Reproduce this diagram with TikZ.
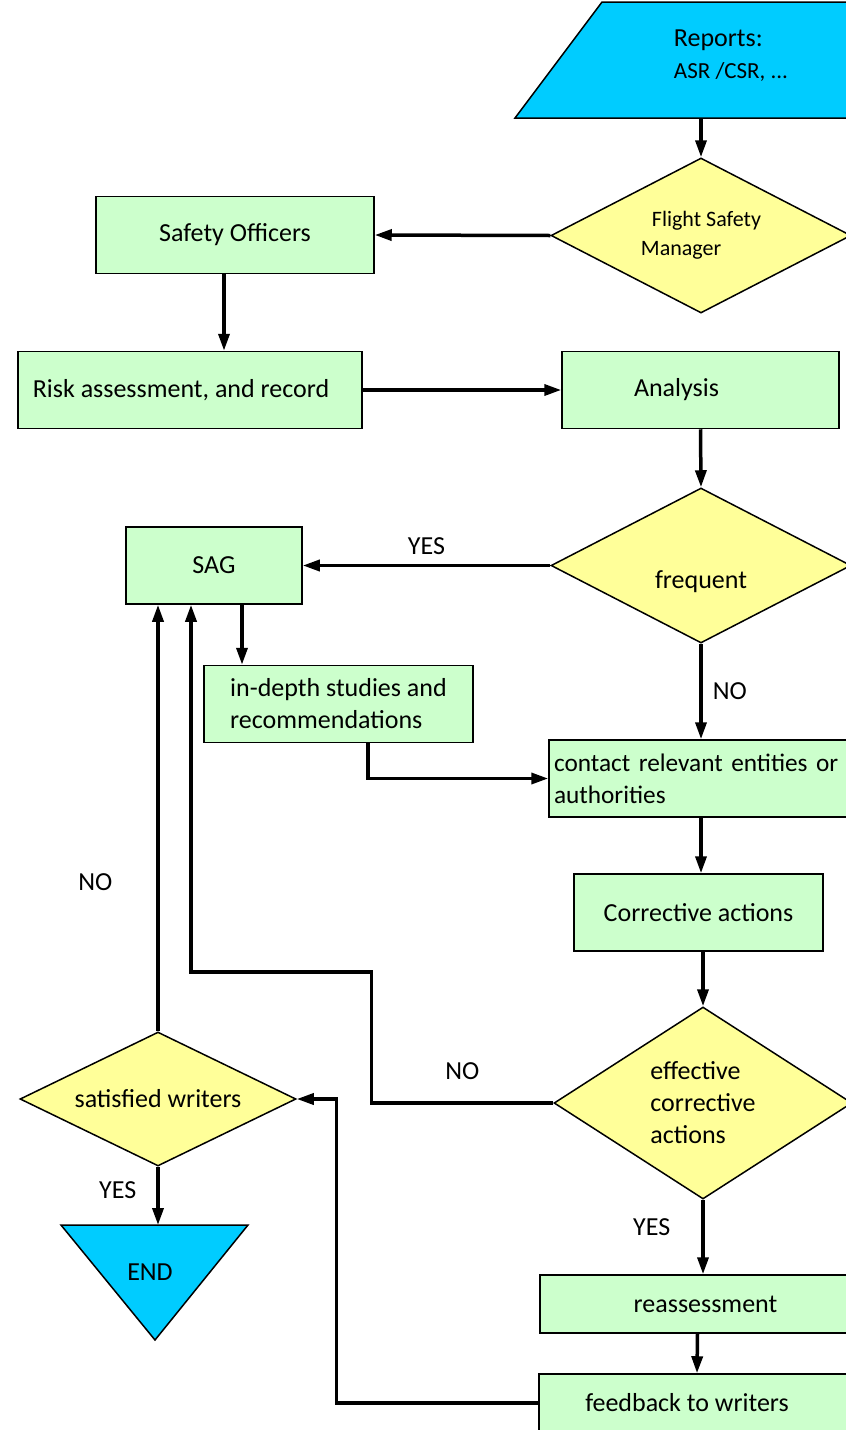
\documentclass[tikz,border=0pt]{standalone}
\usepackage{fontspec}
\setmainfont{Carlito}
\usetikzlibrary{shapes.geometric,arrows.meta,positioning}

\definecolor{repcyan}{RGB}{0,204,255}
\definecolor{boxgreen}{RGB}{204,255,204}
\definecolor{decyellow}{RGB}{255,255,153}

\newcommand\txtsz{\fontsize{26pt}{32pt}\selectfont}
\newcommand\fsmsz{\fontsize{22pt}{29pt}\selectfont}
\newcommand\lblsz{\fontsize{26pt}{30pt}\selectfont}

\tikzset{
  procbox/.style={draw, fill=boxgreen, line width=1.5pt, minimum height=77pt, inner sep=0pt, font=\txtsz},
  decision/.style={diamond, draw, fill=decyellow, line width=1.5pt, inner sep=0pt, aspect=2, font=\txtsz},
  flow/.style={line width=3.5pt, -{Triangle[length=17pt,width=11pt]}},
  lbl/.style={font=\lblsz, inner sep=0pt}
}

\begin{document}
\begin{tikzpicture}[x=1pt,y=-1pt]
    \useasboundingbox (0,0) rectangle (846,1430);
    \clip (0,0) rectangle (846,1430);

    % reports (cut by the right border)
    \filldraw[fill=repcyan, line width=1.5pt] (515,118) -- (602,2) -- (900,2) -- (900,118) -- cycle;
    \node[align=left, font=\fontsize{26pt}{32pt}\selectfont] (rep) at (731,56)
        {Reports:\\\fontsize{23pt}{32pt}\selectfont ASR /CSR, ...};
    \coordinate (repbot) at (701,118);

    % decisions
    \node[decision, minimum width=300pt, minimum height=155pt, font=\fsmsz, align=left] (fsm) at (701,235.5)
        {\hspace*{11pt}Flight Safety\\Manager};
    \node[decision, minimum width=300pt, minimum height=155pt, text height=46pt, text depth=0pt] (freq) at (701,565.5) {frequent};
    \node[decision, minimum width=298pt, minimum height=192pt, align=left] (eff) at (703,1103)
        {effective\\corrective\\actions};
    \node[decision, minimum width=276pt, minimum height=134pt] (sat) at (158,1099) {satisfied writers};

    % boxes
    \node[procbox, minimum width=278pt] (so) at (235,235) {Safety Officers};
    \node[procbox, minimum width=344pt] (risk) at (190,390) {Risk assessment, and record\hspace*{18pt}};
    \node[procbox, minimum width=277pt] (ana) at (700.5,390) {Analysis\hspace*{48pt}};
    \node[procbox, minimum width=176pt] (sag) at (214,565.5) {SAG};
    \node[procbox, minimum width=269pt, align=left] (indepth) at (338.5,704) {in-depth studies and\\recommendations};
    \node[procbox, text width=330pt, inner xsep=5pt, align=left, font=\fontsize{25.3pt}{32pt}\selectfont] (contact) at (719,778.5)
        {contact relevant entities or\\authorities};
    \node[procbox, minimum width=249pt] (corr) at (698.5,912.5) {Corrective actions};
    \node[procbox, minimum width=315pt, minimum height=58pt] (reas) at (697.5,1304) {\hspace*{16pt}reassessment};
    \node[procbox, minimum width=316pt, minimum height=58pt] (fb) at (697,1403) {feedback to writers\hspace*{20pt}};

    % end
    \filldraw[fill=repcyan, line width=1.5pt] (61,1225) -- (248,1225) -- (155,1340) -- cycle;
    \node[font=\txtsz] (endn) at (150,1272) {END};
    \coordinate (endtop) at (158,1225);

    % connectors
    \draw[flow] (repbot) -- (fsm.north);
    \draw[flow] (fsm.west) -- (so.east);
    \draw[flow] ([xshift=-11pt]so.south) -- ([xshift=34pt]risk.north);
    \draw[flow] (risk.east) -- (ana.west);
    \draw[flow] (ana.south) -- (freq.north);
    \draw[flow] (freq.west) -- node[lbl, above=9pt] {YES} (sag.east);
    \draw[flow] ([xshift=28pt]sag.south) -- ([xshift=-96.5pt]indepth.north);
    \draw[flow] (freq.south) -- node[lbl, right=10pt] {NO} (freq.south |- contact.north);
    \draw[flow] ([xshift=29.5pt]indepth.south) |- (contact.west);
    \draw[flow] (freq.south |- contact.south) -- (freq.south |- corr.north);
    \draw[flow] (eff.north |- corr.south) -- (eff.north);
    \draw[flow] (eff.west) -- node[lbl, above=22pt] {NO} ++(-182,0) |- ++(0,-131) -| ([xshift=-23pt]sag.south);
    \draw[flow] (sat.north) -- node[lbl, pos=0.35, left=44pt] {NO} (sat.north |- sag.south);
    \draw[flow] (sat.south) -- node[lbl, pos=0.4, left=20pt] {YES} (endtop);
    \draw[flow] (eff.south) -- node[lbl, pos=0.37, left=31pt] {YES} (eff.south |- reas.north);
    \draw[flow] (reas.south) -- (fb.north);
    \draw[flow] (fb.west) -- ++(-202,0) |- (sat.east);
\end{tikzpicture}
\end{document}
